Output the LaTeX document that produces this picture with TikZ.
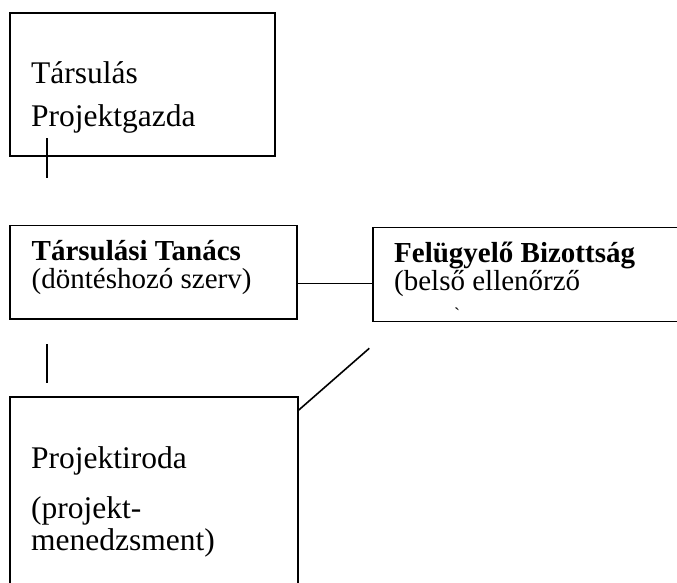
\documentclass[tikz,border=0pt]{standalone}
\usepackage{fontspec}
\setmainfont{Liberation Serif}
\usetikzlibrary{positioning}

\tikzset{
  box/.style={draw, line width=1.9pt, inner sep=0pt, outer sep=0pt, anchor=north west},
  txt/.style={inner sep=0pt, anchor=base west, align=left},
  big/.style={font=\fontsize{31.5}{43.4}\selectfont},
  small/.style={font=\fontsize{29}{28}\selectfont},
  link/.style={line width=1.6pt}
}

\begin{document}
\begin{tikzpicture}[x=1pt,y=1pt]
\useasboundingbox (0,0) rectangle (677,-582);
\node[box, minimum width=265pt, minimum height=143pt] (0) at (10,-13) {};
\node[box, minimum width=287pt, minimum height=93.5pt] (1) at (10,-225.5) {};
\node[box, minimum width=340pt, minimum height=94pt] (2) at (373.3,-227.5) {};
\node[box, minimum width=288pt, minimum height=240pt] (3) at (10,-396.7) {};
% text sits on the baseline of its last line
\node[txt, big] (0t) at (31,-126.7) {Társulás\\Projektgazda};
\node[txt, small] (1t) at (31.5,-288.5) {\textbf{Társulási Tanács}\\(döntéshozó szerv)};
\node[txt, small] (2t) at (394,-290.5) {\textbf{Felügyelő Bizottság}\\(belső ellenőrző};
\node[inner sep=0pt, font=\fontsize{18}{18}\selectfont] (2m) at (457,-314) {\textasciigrave};
\node[txt, font=\fontsize{31.5}{32}\selectfont] (3t) at (31,-550) {Projektiroda\\[18pt](projekt-\\menedzsment)};
% free ends of the short strokes
\coordinate (a0) at (46.7,-138.3);
\coordinate (a1) at (46.7,-178.3);
\coordinate (b0) at (46.7,-344);
\coordinate (b1) at (46.7,-383.3);
\coordinate (d) at (369.3,-348.3);
\draw[link] (a0) -- (a1);
\draw[link] (b0) -- (b1);
\draw[link] ([yshift=-57.8pt]1.north east) -- ([yshift=-57.8pt]1.north east -| 2.west);
\draw[link] ([yshift=-14pt]3.north east) -- (d);
\end{tikzpicture}
\end{document}
